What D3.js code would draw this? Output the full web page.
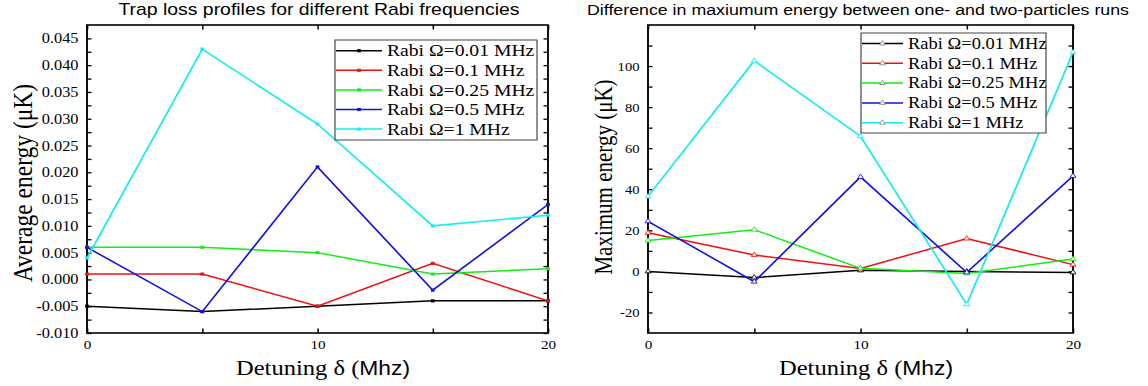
<!DOCTYPE html>
<html>
<head>
<meta charset="utf-8">
<script src="https://cdn.jsdelivr.net/npm/d3@7"></script>
<style>
  body { margin: 0; background: #fff; }
  svg { display: block; }
  .tick text { font-family: "Liberation Serif", "Times New Roman", serif; fill: #000; }
</style>
</head>
<body>
<div id="chart"></div>
<script>
// Data
var detuning = [0, 5, 10, 15, 20];
var xTickLabels = [0, 10, 20];
var xMinorTicks = [5, 15];

var rabiLabels = ["Rabi Ω=0.01 MHz", "Rabi Ω=0.1 MHz", "Rabi Ω=0.25 MHz", "Rabi Ω=0.5 MHz", "Rabi Ω=1 MHz"];
var rabiColors = ["#000000", "#ee1111", "#11ee11", "#1111dd", "#11eeee"];

// left panel: average energy (µK)
var avgRabi001 = [-0.005, -0.006, -0.005, -0.004, -0.004];
var avgRabi01  = [0.001, 0.001, -0.005, 0.003, -0.004];
var avgRabi025 = [0.006, 0.006, 0.005, 0.001, 0.002];
var avgRabi05  = [0.006, -0.006, 0.021, -0.002, 0.014];
var avgRabi1   = [0.004, 0.043, 0.029, 0.010, 0.012];
var avgTickLabels = [-0.010, -0.005, 0.000, 0.005, 0.010, 0.015, 0.020, 0.025, 0.030, 0.035, 0.040, 0.045];

// right panel: maximum energy difference (µK)
var maxRabi001 = [0, -3, 0.5, 0, -0.5];
var maxRabi01  = [18.8, 8, 1.4, 16, 3.3];
var maxRabi025 = [15, 20.3, 1.5, -1, 6];
var maxRabi05  = [24.4, -5, 46, -0.5, 46.5];
var maxRabi1   = [36.5, 102.6, 65.8, -16, 106.7];
var maxTickLabels = [-20, 0, 20, 40, 60, 80, 100];

// The picture is stretched sideways, so everything is drawn in a group scaled on x
var SX = 1.17;
function sx(px) { return px / SX; }

var svg = d3.select("#chart")
  .append("svg")
  .attr("width", 1148)
  .attr("height", 386);

svg.append("rect").attr("width", 1148).attr("height", 386).attr("fill", "#fff");

var root = svg.append("g").attr("transform", `scale(${SX},1)`);

function minorBetween(major, domain) {
  var out = [];
  var step = major[1] - major[0];
  var first = major[0] - step / 2;
  for (var v = first; v < domain[1] - 1e-9; v += step) {
    if (v > domain[0] + 1e-9) out.push(+v.toFixed(6));
  }
  return out;
}

function drawPanel(cfg) {
  var g = root.append("g");

  var x = d3.scaleLinear().domain([0, 20]).range([sx(cfg.left), sx(cfg.right)]);
  var y = d3.scaleLinear().domain(cfg.yDomain).range([cfg.bottom, cfg.top]);

  var yMinor = minorBetween(cfg.yTicks, cfg.yDomain);
  var yAll = cfg.yTicks.concat(yMinor);
  var xAll = xTickLabels.concat(xMinorTicks);

  // Axes, ticks pointing inward
  var bottom = g.append("g")
    .attr("transform", `translate(0,${cfg.bottom})`)
    .call(d3.axisBottom(x).tickValues(xAll).tickSizeInner(-4.5).tickSizeOuter(0).tickPadding(7)
      .tickFormat(d => xTickLabels.indexOf(d) >= 0 ? d : ""));
  bottom.selectAll("text").attr("font-size", cfg.xTickSize);

  g.append("g")
    .attr("transform", `translate(0,${cfg.top})`)
    .call(d3.axisTop(x).tickValues(xAll).tickSizeInner(-4.5).tickSizeOuter(0).tickFormat(""));

  var left = g.append("g")
    .attr("transform", `translate(${sx(cfg.left)},0)`)
    .call(d3.axisLeft(y).tickValues(yAll).tickSizeInner(-sx(4.5)).tickSizeOuter(0).tickPadding(sx(8.5))
      .tickFormat(d => cfg.yTicks.indexOf(d) >= 0 ? cfg.fmt(d) : ""));
  left.selectAll("text").attr("font-size", cfg.yTickSize);

  g.append("g")
    .attr("transform", `translate(${sx(cfg.right)},0)`)
    .call(d3.axisRight(y).tickValues(yAll).tickSizeInner(-sx(4.5)).tickSizeOuter(0).tickFormat(""));

  g.selectAll(".domain").remove();
  g.selectAll(".tick line").attr("stroke", "#000").attr("stroke-width", 1.3);

  // Frame
  g.append("rect")
    .attr("x", sx(cfg.left))
    .attr("y", cfg.top)
    .attr("width", sx(cfg.right) - sx(cfg.left))
    .attr("height", cfg.bottom - cfg.top)
    .attr("fill", "none")
    .attr("stroke", "#000")
    .attr("stroke-width", 1.6);

  // Lines
  var line = d3.line()
    .x((d, i) => x(detuning[i]))
    .y(d => y(d));

  var symbol = d3.symbol().type(cfg.marker).size(cfg.markerSize);

  cfg.series.forEach(function(values, k) {
    g.append("path")
      .attr("d", line(values))
      .attr("fill", "none")
      .attr("stroke", rabiColors[k])
      .attr("stroke-width", 1.5);

    g.selectAll(null)
      .data(values)
      .enter()
      .append("path")
      .attr("d", symbol)
      .attr("transform", (d, i) => `translate(${x(detuning[i])},${y(d)})`)
      .attr("fill", cfg.hollow ? "#fff" : rabiColors[k])
      .attr("stroke", rabiColors[k])
      .attr("stroke-width", cfg.hollow ? 0.8 : 0);
  });

  // Legend
  var lg = cfg.legend;
  g.append("rect")
    .attr("x", sx(lg.x0))
    .attr("y", lg.y0)
    .attr("width", sx(lg.x1) - sx(lg.x0))
    .attr("height", lg.y1 - lg.y0)
    .attr("fill", "#fff")
    .attr("stroke", "#444")
    .attr("stroke-width", 1);

  rabiLabels.forEach(function(label, k) {
    var cy = lg.firstRow + k * lg.rowStep;
    g.append("line")
      .attr("x1", sx(lg.lineX0)).attr("x2", sx(lg.lineX1))
      .attr("y1", cy).attr("y2", cy)
      .attr("stroke", rabiColors[k])
      .attr("stroke-width", 1.5);
    g.append("path")
      .attr("d", symbol)
      .attr("transform", `translate(${sx((lg.lineX0 + lg.lineX1) / 2)},${cy})`)
      .attr("fill", cfg.hollow ? "#fff" : rabiColors[k])
      .attr("stroke", cfg.hollow ? "#888" : rabiColors[k])
      .attr("stroke-width", cfg.hollow ? 0.8 : 0);
    g.append("text")
      .attr("x", sx(lg.textX))
      .attr("y", cy)
      .attr("dy", "0.34em")
      .attr("font-family", "'Liberation Serif', 'Times New Roman', serif")
      .attr("font-size", lg.fontSize)
      .text(label);
  });

  // Title
  g.append("text")
    .attr("x", sx(cfg.titleX))
    .attr("y", 15)
    .attr("text-anchor", "middle")
    .attr("font-family", "'Liberation Sans', Arial, sans-serif")
    .attr("font-size", cfg.titleSize)
    .text(cfg.title);

  // Y label
  g.append("text")
    .attr("transform", `translate(${sx(cfg.yLabelX)},${cfg.yLabelY}) rotate(-90)`)
    .attr("text-anchor", "middle")
    .attr("font-family", "'Liberation Serif', 'Times New Roman', serif")
    .attr("font-size", cfg.yLabelSize)
    .text(cfg.yLabel);

  // X label, "Mhz)" is set in a sans face in the original
  var xl = g.append("text")
    .attr("x", sx(cfg.xLabelX))
    .attr("y", 375)
    .attr("text-anchor", "middle")
    .attr("font-size", 21);
  xl.append("tspan")
    .attr("font-family", "'Liberation Serif', 'Times New Roman', serif")
    .text("Detuning δ (");
  xl.append("tspan")
    .attr("font-family", "'Liberation Sans', Arial, sans-serif")
    .attr("font-size", 19.5)
    .text("Mhz)");
}

var fmtAvg = d => d3.format(".3f")(d).replace("−", "-");
var fmtMax = d => d3.format("d")(d).replace("−", "-");

drawPanel({
  left: 87, right: 548, top: 25, bottom: 333,
  yDomain: [-0.010, 0.0475],
  yTicks: avgTickLabels,
  fmt: fmtAvg,
  yTickSize: 14, xTickSize: 13,
  series: [avgRabi001, avgRabi01, avgRabi025, avgRabi05, avgRabi1],
  marker: d3.symbolSquare, markerSize: 10, hollow: false,
  legend: { x0: 335, x1: 537, y0: 40, y1: 140, firstRow: 50.7, rowStep: 19.6,
            lineX0: 336, lineX1: 382, textX: 387, fontSize: 16.8 },
  title: "Trap loss profiles for different Rabi frequencies", titleX: 319, titleSize: 16.6,
  yLabel: "Average energy (μK)", yLabelX: 32, yLabelY: 183, yLabelSize: 23.5,
  xLabelX: 323
});

drawPanel({
  left: 648, right: 1073, top: 25, bottom: 333,
  yDomain: [-30, 120],
  yTicks: maxTickLabels,
  fmt: fmtMax,
  yTickSize: 12.5, xTickSize: 13,
  series: [maxRabi001, maxRabi01, maxRabi025, maxRabi05, maxRabi1],
  marker: d3.symbolTriangle, markerSize: 11, hollow: true,
  legend: { x0: 861, x1: 1046, y0: 33, y1: 133, firstRow: 43.5, rowStep: 19.8,
            lineX0: 862, lineX1: 903, textX: 908, fontSize: 15.8 },
  title: "Difference in maxiumum energy between one- and two-particles runs", titleX: 858, titleSize: 15.2,
  yLabel: "Maximum energy (μK)", yLabelX: 612, yLabelY: 177, yLabelSize: 21,
  xLabelX: 866
});
</script>
</body>
</html>
